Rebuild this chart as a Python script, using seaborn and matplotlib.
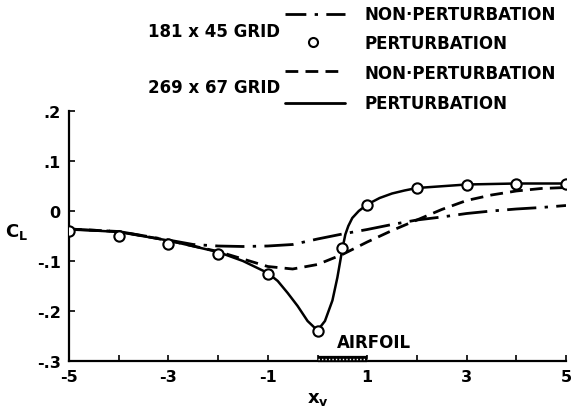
import numpy as np
import pandas as pd
import seaborn as sns
import matplotlib.pyplot as plt
from matplotlib.lines import Line2D

# 181 x 45 grid, non-perturbation (dash-dot)
coarse_nonpert_x = [-5, -4, -3, -2.5, -2, -1.5, -1, -0.5, 0, 0.5, 1, 1.5, 2, 2.5, 3, 3.5, 4, 4.5, 5]
coarse_nonpert_y = [-0.036, -0.041, -0.058, -0.067, -0.070, -0.071, -0.070, -0.067, -0.056, -0.046,
                    -0.037, -0.027, -0.018, -0.012, -0.005, 0.000, 0.004, 0.007, 0.011]

# 181 x 45 grid, perturbation (circles)
coarse_pert_x = [-5, -4, -3, -2, -1, 0, 0.5, 1, 2, 3, 4, 5]
coarse_pert_y = [-0.039, -0.049, -0.065, -0.086, -0.125, -0.239, -0.074, 0.012, 0.046, 0.052, 0.055, 0.054]

# 269 x 67 grid, non-perturbation (dashed)
fine_nonpert_x = [-5, -4, -3, -2, -1.5, -1, -0.5, 0, 0.5, 1, 1.5, 2, 2.5, 3, 3.5, 4, 4.5, 5]
fine_nonpert_y = [-0.036, -0.041, -0.059, -0.081, -0.096, -0.111, -0.116, -0.107, -0.087, -0.062,
                  -0.039, -0.018, 0.003, 0.021, 0.032, 0.040, 0.045, 0.047]

# 269 x 67 grid, perturbation (solid)
fine_pert_x = [-5, -4.5, -4, -3, -2, -1.5, -1, -0.8, -0.6, -0.4, -0.2, 0, 0.15, 0.3, 0.4, 0.5,
               0.56, 0.62, 0.7, 0.83, 1, 1.25, 1.5, 1.75, 2, 3, 4, 5]
fine_pert_y = [-0.037, -0.039, -0.042, -0.059, -0.082, -0.100, -0.124, -0.140, -0.164, -0.190,
               -0.220, -0.239, -0.220, -0.179, -0.133, -0.076, -0.047, -0.030, -0.014, 0.000,
               0.013, 0.026, 0.035, 0.041, 0.046, 0.053, 0.055, 0.055]

airfoil_x = [0.0, 1.0]

x_ticks = [-5, -4, -3, -2, -1, 0, 1, 2, 3, 4, 5]
x_labels = ['-5', '', '-3', '', '-1', '', '1', '', '3', '', '5']
y_ticks = [-0.3, -0.2, -0.1, 0.0, 0.1, 0.2]
y_labels = ['-.3', '-.2', '-.1', '0', '.1', '.2']

sns.set_style("ticks")
plt.rcParams['font.family'] = ['DejaVu Sans']
plt.rcParams['font.weight'] = 'bold'
plt.rcParams['mathtext.fontset'] = 'custom'
plt.rcParams['mathtext.rm'] = 'DejaVu Sans:bold'
plt.rcParams['mathtext.bf'] = 'DejaVu Sans:bold'
plt.rcParams['mathtext.it'] = 'DejaVu Sans:bold'
for key in ['text.color', 'axes.labelcolor', 'xtick.color', 'ytick.color', 'axes.edgecolor']:
    plt.rcParams[key] = 'black'

W, H = 571, 410
fig = plt.figure(figsize=(W / 100, H / 100), dpi=100)
ax = fig.add_axes([69 / W, 1 - 362 / H, 497 / W, 250 / H])

lw = 2.0
dash_dot = (0, (10.5, 3.0, 1.2, 3.0))
dashed = (0, (4.6, 2.6))

sns.lineplot(x=coarse_nonpert_x, y=coarse_nonpert_y, color='black', linewidth=lw,
             linestyle=dash_dot, estimator=None, sort=False, ax=ax)
sns.lineplot(x=fine_nonpert_x, y=fine_nonpert_y, color='black', linewidth=lw,
             linestyle=dashed, estimator=None, sort=False, ax=ax)
sns.lineplot(x=fine_pert_x, y=fine_pert_y, color='black', linewidth=1.8,
             estimator=None, sort=False, ax=ax)
sns.scatterplot(x=coarse_pert_x, y=coarse_pert_y, marker='o', s=55, facecolor='white',
                edgecolor='black', linewidth=1.5, zorder=5, ax=ax)

# airfoil chord on the axis
ymin = y_ticks[0]
ax.plot(airfoil_x, [ymin + 0.004] * 2, color='black', linewidth=4.5, solid_capstyle='butt',
        zorder=4, clip_on=False)
ax.plot(airfoil_x, [ymin + 0.004] * 2, color='white', linewidth=1.0, linestyle=(0, (1, 1.5)),
        zorder=4, clip_on=False)
ax.text(0.4, -0.262, 'AIRFOIL', fontsize=12, fontweight='bold', ha='left', va='center')

ax.set_xlim(-5, 5)
ax.set_ylim(-0.3, 0.2)
ax.set_xticks(x_ticks)
ax.set_xticklabels(x_labels)
ax.set_yticks(y_ticks)
ax.set_yticklabels(y_labels)
ax.tick_params(direction='in', length=4, width=1.2, labelsize=11.5, pad=6, colors='black')
for lab in ax.get_xticklabels() + ax.get_yticklabels():
    lab.set_fontweight('bold')
sns.despine(ax=ax)
for s in ['left', 'bottom']:
    ax.spines[s].set_linewidth(1.6)
    ax.spines[s].set_color('black')

ax.set_ylabel('$\\mathrm{C_L}$', rotation=0, fontsize=13, va='center', ha='center')
ax.yaxis.set_label_coords(-0.105, 0.52)
ax.set_xlabel('$\\mathrm{x_v}$', fontsize=13, va='center')
ax.xaxis.set_label_coords(0.5, -0.15)

# legend drawn by hand
def fx(px):
    return px / W

def fy(py):
    return 1 - py / H

fig.add_artist(Line2D([fx(285), fx(345)], [fy(15)] * 2, color='black', linewidth=lw,
                      linestyle=(0, (7.5, 3.0, 1.2, 3.0))))
fig.add_artist(Line2D([fx(313)], [fy(43)], marker='o', markersize=6.5, markerfacecolor='white',
                      markeredgecolor='black', markeredgewidth=1.5, linestyle='none'))
fig.add_artist(Line2D([fx(285), fx(345)], [fy(72)] * 2, color='black', linewidth=lw,
                      linestyle=dashed))
fig.add_artist(Line2D([fx(285), fx(345)], [fy(104)] * 2, color='black', linewidth=lw))

legend_labels = ['NON·PERTURBATION', 'PERTURBATION', 'NON·PERTURBATION', 'PERTURBATION']
for lab, py in zip(legend_labels, [15, 44, 74, 104]):
    fig.text(fx(365), fy(py), lab, fontsize=12, fontweight='bold', ha='left', va='center')
fig.text(fx(280), fy(32), '181 x 45 GRID', fontsize=12, fontweight='bold', ha='right', va='center')
fig.text(fx(280), fy(88), '269 x 67 GRID', fontsize=12, fontweight='bold', ha='right', va='center')

fig.savefig('out.png', dpi=100)
